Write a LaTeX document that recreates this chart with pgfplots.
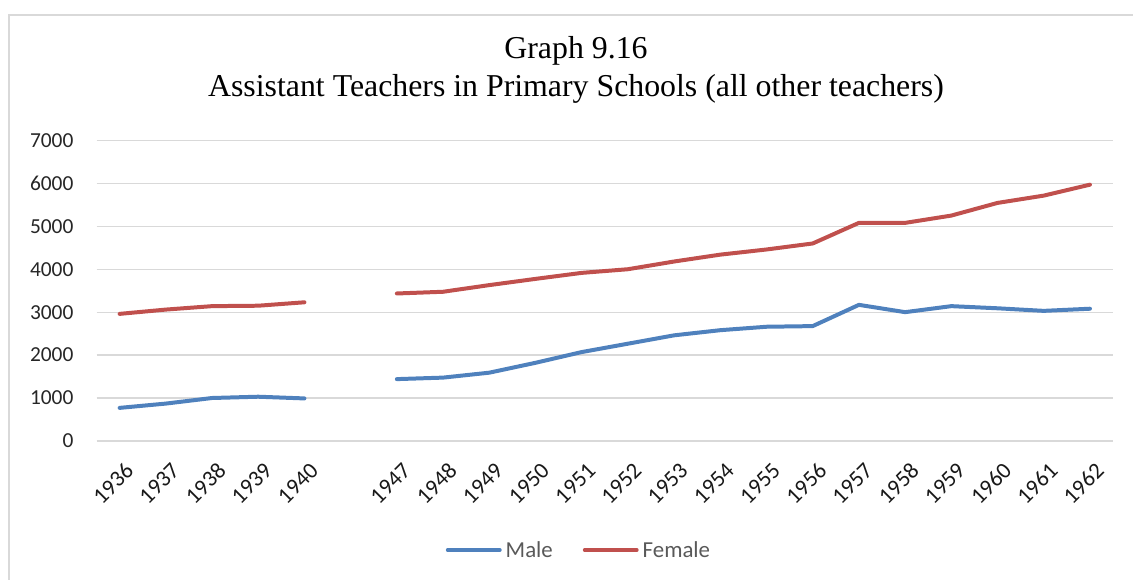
\documentclass[border=0pt]{standalone}
\usepackage{pgfplots}
\usepackage{pgfplotstable}
\pgfplotsset{compat=1.18}
\usepackage{fontspec}
\setmainfont{Carlito}
\newfontfamily\titlefont{Liberation Serif}
\definecolor{mblue}{HTML}{4F81BD}
\definecolor{mred}{HTML}{C0504D}
\definecolor{gridc}{HTML}{D9D9D9}
\definecolor{legtext}{HTML}{595959}

\pgfplotstableread{
idx year male female
0 1936 770 2960
1 1937 870 3060
2 1938 1000 3140
3 1939 1030 3150
4 1940 990 3230
5 nan nan nan
6 1947 1440 3435
7 1948 1475 3475
8 1949 1590 3630
9 1950 1820 3775
10 1951 2070 3915
11 1952 2265 4000
12 1953 2460 4180
13 1954 2580 4340
14 1955 2660 4460
15 1956 2675 4600
16 1957 3170 5080
17 1958 3000 5080
18 1959 3140 5250
19 1960 3090 5545
20 1961 3030 5715
21 1962 3080 5970
}\datatable

\begin{document}
\begin{tikzpicture}
\path (0bp,0bp) rectangle (1134bp,-580bp);
\draw[gridc, line width=2bp] (9bp,-581bp) -- (9bp,-15bp) -- (1135bp,-15bp);
\node[font=\titlefont\fontsize{32}{39}\selectfont, align=center] at (577bp,-70bp) {Graph 9.16\\Assistant Teachers in Primary Schools (all other teachers)};
\begin{axis}[
  at={(96.7bp,-441.7bp)}, anchor=south west,
  scale only axis, width=1018.3bp, height=301bp,
  xmin=-0.5, xmax=21.5, ymin=0, ymax=7000,
  xtick={0,...,21},
  xticklabels={1936,1937,1938,1939,1940,,1947,1948,1949,1950,1951,1952,1953,1954,1955,1956,1957,1958,1959,1960,1961,1962},
  ytick={0,1000,...,7000},
  ymajorgrids, major grid style={gridc, line width=1.2bp},
  axis line style={draw=none},
  major tick length=0pt,
  unbounded coords=jump,
  /pgf/number format/assume math mode=true,
  /pgf/number format/1000 sep={},
  yticklabel style={font=\fontsize{21.5}{24}\selectfont, text=black!85, anchor=east, inner sep=0pt, xshift=-23bp},
  xticklabel style={font=\fontsize{23}{26}\selectfont, text=black!90, inner sep=0pt, xshift=10bp, yshift=-26bp, rotate=45, anchor=east},
  legend columns=2,
  legend style={at={(0.4746,-0.363)}, anchor=center, draw=none, fill=none,
    font=\fontsize{23}{26}\selectfont, text=legtext,
    /tikz/every odd column/.append style={column sep=2bp},
    /tikz/every even column/.append style={column sep=28bp}},
  legend image code/.code={\draw[#1, line width=4bp, line cap=round] (0bp,0bp) -- (52bp,0bp);},
]
\addplot[mblue, line width=4bp, line join=round, line cap=round] table[x=idx, y=male] {\datatable};
\addlegendentry{Male}
\addplot[mred, line width=4bp, line join=round, line cap=round] table[x=idx, y=female] {\datatable};
\addlegendentry{Female}
\end{axis}
\end{tikzpicture}
\end{document}
